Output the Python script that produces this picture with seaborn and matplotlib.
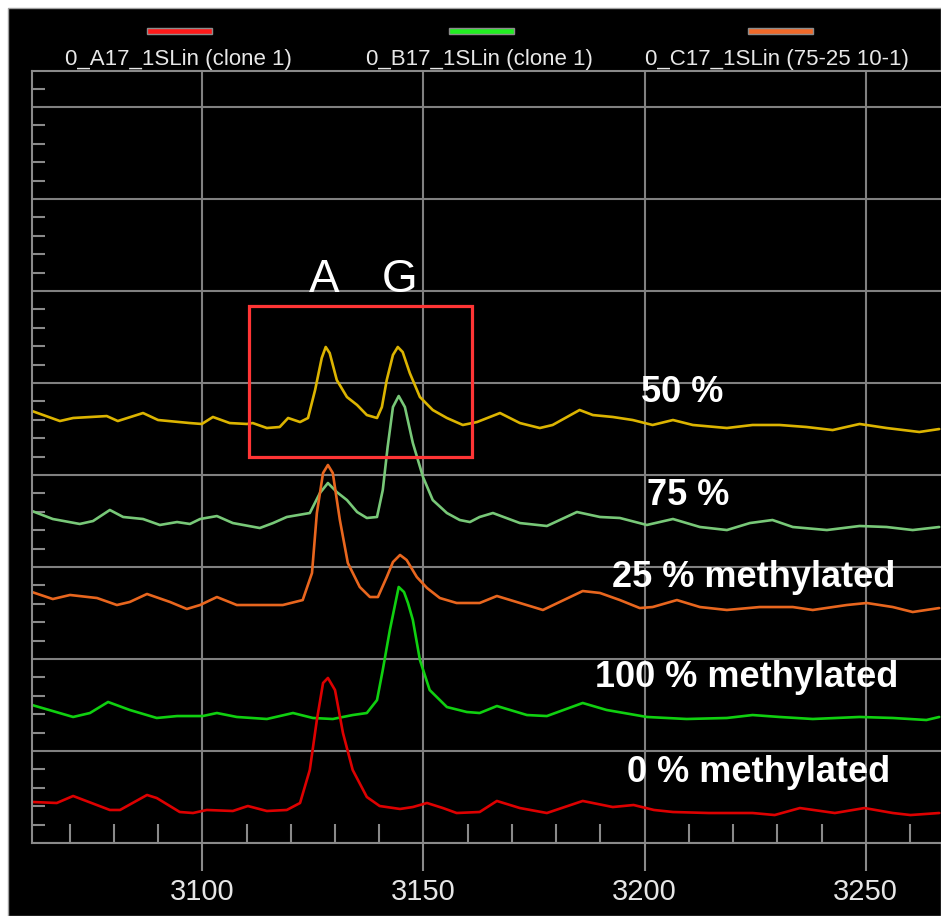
import matplotlib
matplotlib.use("Agg")
import matplotlib.pyplot as plt
import seaborn as sns
import pandas as pd
from matplotlib.patches import Rectangle
from matplotlib.ticker import MultipleLocator, FixedLocator

sns.set_style("dark")
plt.rcParams['font.family'] = ['Liberation Sans', 'DejaVu Sans']

# ---------------- data (scan number, signal) ----------------
x_ticks = [3100, 3150, 3200, 3250]

sample_names = ["50 %", "75 %", "25 % methylated", "100 % methylated", "0 % methylated"]

trace_50 = [
    (3061.5, 4696), (3067.8, 4587), (3070.8, 4620), (3078.4, 4641), (3080.9, 4587),
    (3086.6, 4674), (3090.0, 4598), (3097.2, 4565), (3099.9, 4555), (3102.4, 4631),
    (3106.2, 4565), (3110.1, 4555), (3111.4, 4565), (3114.6, 4511), (3117.5, 4522),
    (3119.4, 4620), (3122.1, 4576), (3123.9, 4620), (3125.5, 4924), (3127.0, 5272),
    (3127.9, 5392), (3128.8, 5326), (3130.4, 5033), (3132.7, 4848), (3135.0, 4761),
    (3137.2, 4652), (3139.5, 4620), (3140.6, 4739), (3141.7, 5033), (3143.1, 5305),
    (3144.2, 5392), (3145.3, 5337), (3146.9, 5109), (3149.2, 4848), (3152.1, 4707),
    (3155.3, 4620), (3158.9, 4544), (3162.1, 4576), (3167.3, 4674), (3171.8, 4565),
    (3176.3, 4511), (3179.2, 4544), (3185.3, 4707), (3188.3, 4652), (3192.8, 4631),
    (3197.3, 4598), (3201.8, 4544), (3206.4, 4598), (3210.9, 4544), (3218.6, 4511),
    (3224.4, 4544), (3230.5, 4544), (3236.6, 4522), (3242.5, 4489), (3248.6, 4555),
    (3254.7, 4511), (3262.1, 4468), (3266.6, 4500),
]

trace_75 = [
    (3061.5, 3609), (3066.2, 3522), (3072.3, 3468), (3075.3, 3500), (3079.1, 3620),
    (3082.1, 3544), (3086.6, 3522), (3090.4, 3457), (3094.3, 3489), (3097.2, 3468),
    (3099.5, 3522), (3103.3, 3554), (3106.9, 3478), (3113.0, 3424), (3116.0, 3478),
    (3119.1, 3544), (3124.3, 3587), (3126.6, 3805), (3128.4, 3913), (3130.4, 3815),
    (3132.7, 3728), (3135.0, 3598), (3137.2, 3533), (3139.5, 3544), (3140.8, 3837),
    (3141.9, 4305), (3143.1, 4739), (3144.4, 4859), (3145.8, 4739), (3147.6, 4348),
    (3149.9, 3978), (3152.1, 3728), (3155.3, 3587), (3158.2, 3511), (3160.5, 3489),
    (3162.7, 3544), (3165.7, 3587), (3171.8, 3478), (3177.9, 3446), (3184.7, 3598),
    (3189.9, 3544), (3194.4, 3533), (3200.5, 3457), (3206.4, 3522), (3212.5, 3435),
    (3218.6, 3402), (3223.8, 3478), (3228.9, 3511), (3233.5, 3435), (3241.2, 3402),
    (3248.6, 3446), (3254.7, 3435), (3260.6, 3402), (3266.6, 3435),
]

trace_25 = [
    (3061.5, 2728), (3066.2, 2652), (3070.1, 2696), (3076.2, 2663), (3080.7, 2587),
    (3083.6, 2620), (3087.5, 2707), (3092.7, 2620), (3096.5, 2544), (3099.5, 2587),
    (3103.3, 2674), (3107.8, 2587), (3113.0, 2587), (3118.2, 2587), (3122.7, 2641),
    (3124.8, 2935), (3125.9, 3587), (3127.3, 4022), (3128.4, 4109), (3129.5, 4022),
    (3131.1, 3511), (3132.9, 3044), (3135.6, 2783), (3137.9, 2674), (3139.7, 2674),
    (3141.7, 2891), (3143.1, 3054), (3144.7, 3131), (3146.2, 3076), (3148.5, 2891),
    (3150.8, 2772), (3153.7, 2663), (3157.5, 2609), (3162.7, 2609), (3166.6, 2685),
    (3171.8, 2609), (3177.0, 2533), (3180.8, 2620), (3186.0, 2739), (3189.9, 2718),
    (3194.4, 2641), (3198.9, 2554), (3201.8, 2565), (3207.3, 2641), (3212.5, 2565),
    (3218.6, 2533), (3226.0, 2565), (3233.5, 2565), (3238.0, 2533), (3245.7, 2587),
    (3250.2, 2609), (3256.1, 2565), (3260.6, 2511), (3266.6, 2554),
]

trace_100 = [
    (3061.5, 1500), (3070.8, 1370), (3074.6, 1413), (3078.7, 1533), (3083.6, 1446),
    (3089.7, 1359), (3094.3, 1380), (3100.1, 1380), (3103.3, 1413), (3107.8, 1370),
    (3114.6, 1348), (3120.5, 1413), (3125.0, 1359), (3129.5, 1348), (3134.0, 1391),
    (3137.2, 1413), (3139.5, 1554), (3140.8, 1881), (3142.4, 2315), (3144.4, 2783),
    (3145.6, 2728), (3146.5, 2609), (3147.6, 2424), (3149.2, 1989), (3151.4, 1663),
    (3155.3, 1478), (3159.8, 1424), (3162.7, 1413), (3166.6, 1489), (3173.4, 1391),
    (3177.9, 1380), (3186.0, 1522), (3191.4, 1446), (3200.5, 1370), (3209.5, 1348),
    (3218.6, 1359), (3224.4, 1391), (3230.5, 1370), (3238.0, 1348), (3248.6, 1370),
    (3256.1, 1359), (3263.7, 1337), (3266.6, 1370),
]

trace_0 = [
    (3061.5, 446), (3067.1, 435), (3070.8, 511), (3079.1, 359), (3081.4, 359),
    (3087.5, 522), (3089.7, 489), (3094.9, 337), (3097.9, 326), (3101.0, 359),
    (3106.9, 348), (3110.3, 402), (3114.6, 348), (3119.1, 359), (3122.1, 435),
    (3124.3, 794), (3125.9, 1337), (3127.3, 1739), (3128.4, 1794), (3130.0, 1663),
    (3131.8, 1196), (3134.0, 794), (3137.2, 500), (3140.1, 402), (3144.7, 370),
    (3147.6, 391), (3150.8, 435), (3154.4, 380), (3157.5, 326), (3162.7, 337),
    (3166.6, 457), (3171.8, 380), (3177.9, 326), (3186.0, 457), (3192.8, 391),
    (3197.5, 413), (3202.1, 359), (3206.4, 337), (3214.5, 326), (3224.4, 326),
    (3229.4, 304), (3235.1, 380), (3243.0, 326), (3249.7, 380), (3256.1, 326),
    (3260.1, 304), (3266.6, 326),
]

label_x = [3199.1, 3200.5, 3192.6, 3188.7, 3196.0]
label_y = [4794, 3674, 2783, 1696, 663]

legend_labels = ["0_A17_1SLin (clone 1)", "0_B17_1SLin (clone 1)", "0_C17_1SLin (75-25 10-1)"]

# ---------------- styling ----------------
trace_colors = {
    "50 %": "#dcb400",
    "75 %": "#78c878",
    "25 % methylated": "#e8661e",
    "100 % methylated": "#10d010",
    "0 % methylated": "#dd0000",
}
legend_colors = ["#ff1a1a", "#22ee22", "#f06a2a"]

traces = [trace_50, trace_75, trace_25, trace_100, trace_0]
rows = []
for name, tr in zip(sample_names, traces):
    for sx, sy in tr:
        rows.append((sx, sy, name))
df = pd.DataFrame(rows, columns=["scan", "signal", "sample"])

W, H = 941, 916
fig = plt.figure(figsize=(W / 100, H / 100), dpi=100, facecolor="white")
fig.patches.append(Rectangle((8 / W, 0), 1 - 8 / W, 1 - 8 / H, transform=fig.transFigure,
                             facecolor="black", edgecolor="#a0a0a0", lw=1, zorder=-10))

ax = fig.add_axes([32 / W, 73 / H, 909 / W, 772 / H])
ax.set_facecolor("black")

sns.lineplot(data=df, x="scan", y="signal", hue="sample",
             hue_order=sample_names, palette=trace_colors,
             estimator=None, sort=False, lw=1.9, legend=False, ax=ax)

ax.set_xlim(3061.5, 3267.0)
ax.set_ylim(0, 8392)
ax.xaxis.set_major_locator(FixedLocator(x_ticks))
ax.xaxis.set_minor_locator(MultipleLocator(10))
ax.yaxis.set_major_locator(MultipleLocator(1000))
ax.yaxis.set_minor_locator(MultipleLocator(200))
ax.grid(True, which="major", color="#808080", lw=1.5)
ax.grid(False, which="minor")
ax.set_axisbelow(True)
ax.set_xlabel("")
ax.set_ylabel("")

tc = "#8a8a8a"
ax.tick_params(axis="x", which="both", bottom=True, top=False)
ax.tick_params(axis="y", which="both", left=True, right=False)
ax.tick_params(axis="x", which="major", direction="out", length=20, width=1.5,
               color=tc, labelcolor="#e6e6e6", labelsize=21, pad=5)
ax.tick_params(axis="x", which="minor", direction="in", length=14, width=1.5, color=tc)
ax.tick_params(axis="y", which="major", length=0, labelleft=False)
ax.tick_params(axis="y", which="minor", direction="in", length=9.5, width=1.5, color=tc)
for side in ["left", "bottom", "top"]:
    ax.spines[side].set_color(tc)
    ax.spines[side].set_linewidth(1.5)
ax.spines["right"].set_visible(False)

# highlight box and base labels
ax.add_patch(Rectangle((3110.5, 4200), 50.4, 1640, fill=False,
                       edgecolor="#ff3535", lw=2.3, zorder=5))
ax.text(3127.5, 5990, "A", color="white", fontsize=33, ha="center", va="baseline")
ax.text(3144.6, 5990, "G", color="white", fontsize=33, ha="center", va="baseline")

for name, lx, ly in zip(sample_names, label_x, label_y):
    ax.text(lx, ly, name, color="white", fontsize=26, fontweight="bold",
            ha="left", va="baseline", zorder=6)

# legend across the top (colour sample above each name)
line_left = [147, 449, 748]
text_center = [178, 479, 777]
for lab, col, lx, tx in zip(legend_labels, legend_colors, line_left, text_center):
    fig.patches.append(Rectangle((lx / W, 1 - 33.5 / H), 65 / W, 6 / H,
                                 transform=fig.transFigure, facecolor=col,
                                 edgecolor="#8c8c8c", lw=1))
    fig.text(tx / W, 1 - 65 / H, lab, ha="center", va="baseline",
             color="#e8e8e8", fontsize=16)

fig.savefig("out.png", dpi=100, facecolor=fig.get_facecolor())
